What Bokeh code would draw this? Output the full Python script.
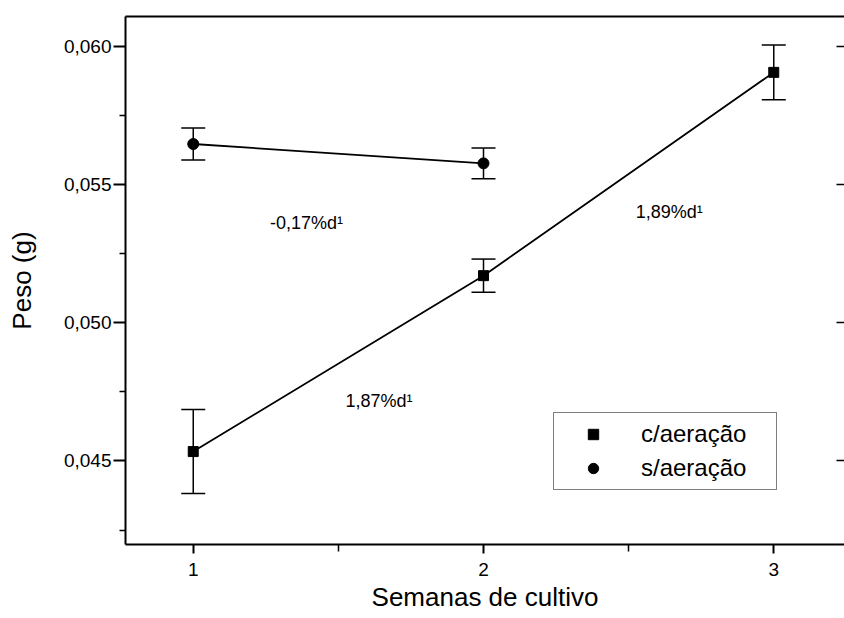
from bokeh.plotting import figure
from bokeh.models import (ColumnDataSource, Range1d, FixedTicker, LinearAxis, Whisker, TeeHead,
                          Legend, LegendItem, CustomJSTickFormatter)
from bokeh.core.properties import value
from bokeh.embed import file_html
from bokeh.resources import INLINE

# ---- data ----
weeks_c = [1, 2, 3]
peso_c = [0.04534, 0.05170, 0.05905]
err_c = [0.00152, 0.00060, 0.00099]

weeks_s = [1, 2]
peso_s = [0.05646, 0.05576]
err_s = [0.00058, 0.00056]

series_labels = ["c/aeração", "s/aeração"]

rate_labels = ["-0,17%d¹", "1,87%d¹", "1,89%d¹"]
rate_x = [1.39, 1.64, 2.64]
rate_y = [0.05362, 0.04718, 0.05401]

x_ticks = [1, 2, 3]
x_minor_ticks = [1.5, 2.5]
y_ticks = [0.045, 0.050, 0.055, 0.060]
y_minor_ticks = [0.0425, 0.0475, 0.0525, 0.0575]

x_title = "Semanas de cultivo"
y_title = "Peso (g)"

FONT = "Liberation Sans"

p = figure(width=844, height=618,
           x_range=Range1d(0.7666, 3.2437), y_range=Range1d(0.04198, 0.06107),
           output_backend="svg", toolbar_location=None,
           min_border_left=125, min_border_right=0, min_border_top=16, min_border_bottom=74)
p.outline_line_color = None
p.background_fill_color = "white"
p.border_fill_color = "white"
p.xgrid.visible = False
p.ygrid.visible = False

# x axis
xa = p.xaxis[0]
xa.ticker = FixedTicker(ticks=x_ticks, minor_ticks=x_minor_ticks)
xa.axis_line_width = 2
xa.major_tick_line_width = 2
xa.minor_tick_line_width = 1.5
xa.major_tick_in = 0
xa.major_tick_out = 9
xa.minor_tick_in = 0
xa.minor_tick_out = 7
xa.major_label_standoff = 9
xa.major_label_text_font = FONT
xa.major_label_text_font_size = "19px"
xa.major_label_text_color = "black"
xa.axis_label = x_title
xa.axis_label_text_font = FONT
xa.axis_label_text_font_size = "26px"
xa.axis_label_text_font_style = "normal"
xa.axis_label_text_color = "black"
xa.axis_label_standoff = 3

# y axis
ya = p.yaxis[0]
ya.ticker = FixedTicker(ticks=y_ticks, minor_ticks=y_minor_ticks)
ya.formatter = CustomJSTickFormatter(code="return tick.toFixed(3).replace('.', ',');")
ya.axis_line_width = 2
ya.major_tick_line_width = 2
ya.minor_tick_line_width = 1.5
ya.major_tick_in = 0
ya.major_tick_out = 12
ya.minor_tick_in = 0
ya.minor_tick_out = 6
ya.major_label_standoff = 2
ya.major_label_text_font = FONT
ya.major_label_text_font_size = "19px"
ya.major_label_text_color = "black"
ya.axis_label = y_title
ya.axis_label_text_font = FONT
ya.axis_label_text_font_size = "26px"
ya.axis_label_text_font_style = "normal"
ya.axis_label_text_color = "black"
ya.axis_label_standoff = 24

# top frame line
top_axis = LinearAxis(ticker=FixedTicker(ticks=[]), axis_line_width=2,
                      major_tick_in=0, major_tick_out=0, minor_tick_in=0, minor_tick_out=0,
                      major_label_text_font_size="0px", major_label_text_color=None,
                      major_label_standoff=0)
p.add_layout(top_axis, "above")

# right inward ticks (no axis line)
right_axis = LinearAxis(ticker=FixedTicker(ticks=y_ticks), axis_line_color=None,
                        major_tick_in=8, major_tick_out=0, minor_tick_in=0, minor_tick_out=0,
                        major_tick_line_width=1.5,
                        major_label_text_font_size="0px", major_label_text_color=None,
                        major_label_standoff=0)
p.add_layout(right_axis, "right")

src_c = ColumnDataSource(dict(x=weeks_c, y=peso_c,
                              upper=[v + e for v, e in zip(peso_c, err_c)],
                              lower=[v - e for v, e in zip(peso_c, err_c)]))
src_s = ColumnDataSource(dict(x=weeks_s, y=peso_s,
                              upper=[v + e for v, e in zip(peso_s, err_s)],
                              lower=[v - e for v, e in zip(peso_s, err_s)]))

for src in (src_c, src_s):
    w = Whisker(source=src, base="x", upper="upper", lower="lower",
                line_color="black", line_width=1.5,
                upper_head=TeeHead(size=24, line_color="black", line_width=1.5),
                lower_head=TeeHead(size=24, line_color="black", line_width=1.5))
    p.add_layout(w)

p.line("x", "y", source=src_c, line_color="black", line_width=1.8)
p.line("x", "y", source=src_s, line_color="black", line_width=1.8)
r_c = p.scatter("x", "y", source=src_c, marker="square", size=10, color="black")
r_s = p.scatter("x", "y", source=src_s, marker="circle", size=11, color="black")

# growth-rate annotations
p.text(x=rate_x, y=rate_y, text=rate_labels, text_font=value(FONT), text_font_size="18px",
       text_align="center", text_baseline="middle", text_color="black")

legend = Legend(items=[LegendItem(label=series_labels[0], renderers=[r_c]),
                       LegendItem(label=series_labels[1], renderers=[r_s])],
                location=(428, 54), padding=7, spacing=6, margin=0,
                glyph_width=64, glyph_height=26, label_height=26, label_width=128,
                label_standoff=16, label_text_font=FONT, label_text_font_size="24px",
                label_text_color="black",
                border_line_color="black", border_line_width=1.5,
                background_fill_color="white", background_fill_alpha=1)
p.add_layout(legend)

open("out.html", "w").write(file_html(p, INLINE))
